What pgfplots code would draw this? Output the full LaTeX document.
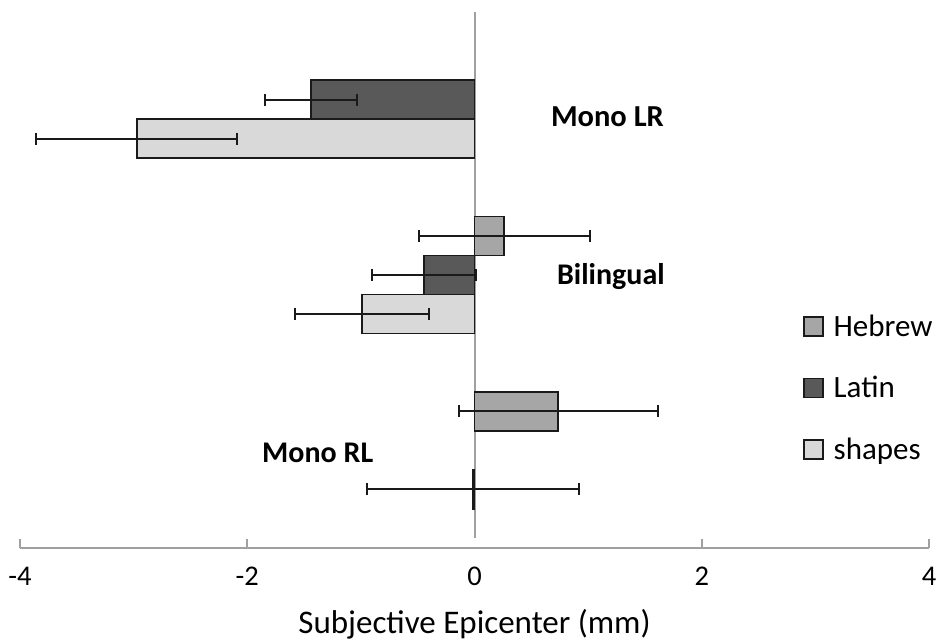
\documentclass[border=0pt]{standalone}
\usepackage{pgfplots}
\pgfplotsset{compat=1.18}
\usepackage{fontspec}
\setmainfont{Carlito}

\definecolor{hebrew}{HTML}{A6A6A6}
\definecolor{latin}{HTML}{595959}
\definecolor{shapes}{HTML}{D9D9D9}
\definecolor{barline}{HTML}{1A1A1A}
\definecolor{axisgray}{HTML}{A0A0A0}

\pgfplotsset{
  sq legend/.style={
    legend image code/.code={
      \draw[##1, line width=1.5pt] (0pt,-9.5pt) rectangle (19pt,9.5pt);
      \path (29pt,0pt);
    }
  },
  % bars sit at their own y position (group +/- 0.2224), so no bar shift
  group bar/.style={
    xbar, bar width=0.2224, bar shift=0pt, draw=barline, line width=1.8pt, sq legend,
    /pgfplots/error bars/x dir=both,
    /pgfplots/error bars/x explicit,
    /pgfplots/error bars/error bar style={line width=2pt, barline},
    /pgfplots/error bars/error mark options={rotate=90, line width=2pt, mark size=6pt, barline}
  }
}

\begin{document}
\begin{tikzpicture}[x=1pt,y=1pt]
\useasboundingbox (-20,-96) rectangle (917,548);
\begin{axis}[
  at={(0,0)}, anchor=south west,
  width=909pt, height=536pt, scale only axis,
  xmin=-4, xmax=4, ymin=0.443, ymax=3.5,
  axis y line=none,
  axis x line*=bottom,
  x axis line style={axisgray, line width=2pt},
  xtick={-4,-2,2,4},
  extra x ticks={0},
  extra x tick style={major tick length=0pt},
  tick align=inside,
  major tick length=9pt,
  major tick style={axisgray, line width=2pt},
  ytick=\empty,
  /pgf/number format/assume math mode=true,
  xticklabel style={font=\fontsize{28.5}{28.5}\selectfont, anchor=base, inner sep=0pt, yshift=-38pt},
  xlabel={Subjective Epicenter (mm)},
  xlabel style={font=\fontsize{33}{33}\selectfont, at={(axis description cs:0.5,0)}, anchor=base, inner sep=0pt, yshift=-86pt},
  legend style={draw=none, fill=none, at={(0.8614,0.432)}, anchor=north west,
    inner sep=0pt, outer sep=0pt, row sep=41pt,
    font=\fontsize{31}{31}\selectfont,
    nodes={inner sep=0pt, text height=19pt, text depth=0pt}},
  legend cell align=left,
  clip=false,
]
% zero reference line
\draw[axisgray, line width=2pt] (axis cs:0,0.5) -- (axis cs:0,3.5);

% Hebrew, upper bar of each group (no Mono LR value)
\addplot[group bar, fill=hebrew]
  coordinates {(0.261,2.2224) +- (0.753,0) (0.737,1.2224) +- (0.874,0)};
% Latin, middle bar (no Mono RL value)
\addplot[group bar, fill=latin]
  coordinates {(-1.439,3) +- (0.409,0) (-0.443,2) +- (0.458,0)};
% shapes, lower bar
\addplot[group bar, fill=shapes]
  coordinates {(-2.971,2.7776) +- (0.885,0) (-0.989,1.7776) +- (0.592,0) (-0.015,0.7776) +- (0.931,0)};
\legend{Hebrew, Latin, shapes}

\node[font=\bfseries\fontsize{30.5}{30.5}\selectfont] at (axis cs:1.17,2.90) {Mono LR};
\node[font=\bfseries\fontsize{30}{30}\selectfont] at (axis cs:1.20,1.99) {Bilingual};
\node[font=\bfseries\fontsize{30}{30}\selectfont] at (axis cs:-1.38,0.985) {Mono RL};
\end{axis}
\end{tikzpicture}
\end{document}
